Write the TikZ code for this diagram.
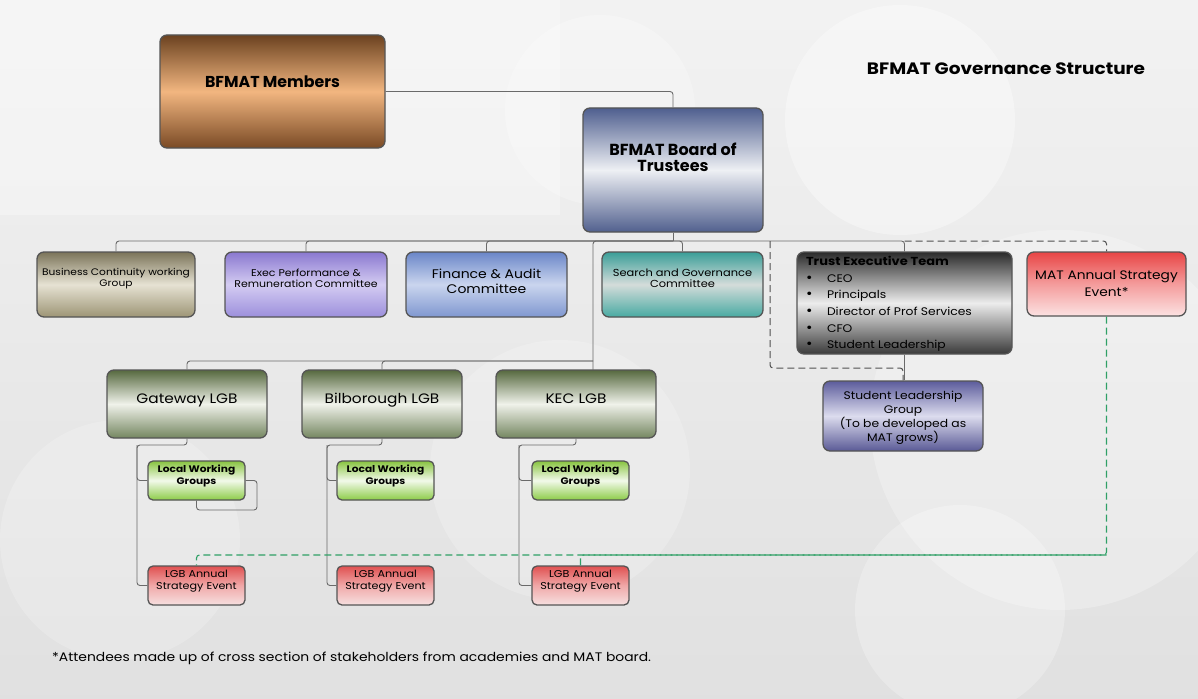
\documentclass[tikz,border=0pt]{standalone}
\usepackage{fontspec}
\setmainfont{Poppins}[FakeStretch=1.12]
\newfontfamily\plainf{Poppins}
\usetikzlibrary{calc}
\definecolor{boxedge}{HTML}{555555}
\definecolor{connc}{HTML}{6A6A6A}
\definecolor{dashc}{HTML}{505050}
\definecolor{greenline}{HTML}{2FA066}
\definecolor{memA}{HTML}{6B4220}\definecolor{memB}{HTML}{7A4A25}\definecolor{memC}{HTML}{F2B680}
\definecolor{brdA}{HTML}{4F5F8F}\definecolor{brdB}{HTML}{51608E}\definecolor{brdC}{HTML}{EEF0F4}
\definecolor{bcA}{HTML}{7B7459}\definecolor{bcB}{HTML}{9D9575}\definecolor{bcC}{HTML}{E6E2D3}
\definecolor{epA}{HTML}{8A78D0}\definecolor{epB}{HTML}{9C8FDC}\definecolor{epC}{HTML}{D4CCF2}
\definecolor{faA}{HTML}{6A86C8}\definecolor{faB}{HTML}{7F97D0}\definecolor{faC}{HTML}{CAD5EE}
\definecolor{sgA}{HTML}{3A9E98}\definecolor{sgB}{HTML}{48AAA2}\definecolor{sgC}{HTML}{D4DCDA}
\definecolor{teA}{HTML}{2A2A2A}\definecolor{teB}{HTML}{3A3A3A}\definecolor{teC}{HTML}{EDEDED}
\definecolor{matA}{HTML}{E84545}\definecolor{matB}{HTML}{FCE2E2}\definecolor{matC}{HTML}{F49C9C}
\definecolor{slA}{HTML}{5C5C9C}\definecolor{slB}{HTML}{5A5A96}\definecolor{slC}{HTML}{DCDCEE}
\definecolor{lgA}{HTML}{56693F}\definecolor{lgB}{HTML}{748660}\definecolor{lgC}{HTML}{F0F2EA}
\definecolor{lwA}{HTML}{88C440}\definecolor{lwB}{HTML}{8CCC48}\definecolor{lwC}{HTML}{F2F9EA}
\definecolor{evA}{HTML}{E05050}\definecolor{evB}{HTML}{F6E0E0}\definecolor{evC}{HTML}{F0A8A8}
\newcommand\bxt[4]{\parbox[c][#2][t]{#1}{\centering\vspace*{#3}#4\par}}
\newcommand\bul{\makebox[21pt][l]{\fontsize{14}{14}\selectfont •}}
\begin{document}
\begin{tikzpicture}[x=1pt,y=-1pt,
  conn/.style={draw=connc, line width=0.9pt, rounded corners=3pt},
  dconn/.style={draw=dashc, line width=1pt, rounded corners=3pt, dash pattern=on 7pt off 4pt},
  gconn/.style={draw=greenline, line width=1.1pt, dash pattern=on 7pt off 4pt, rounded corners=3pt},
  bx/.style={draw=boxedge, line width=1.3pt, rounded corners=7pt, inner sep=0pt},
  sbx/.style={bx, rounded corners=5pt},
]
\useasboundingbox (0,0) rectangle (1198,698);
% background
\shade[top color=gray!10, bottom color=gray!24] (0,0) rectangle (1198,698);
\fill[white, opacity=0.35] (900,120) circle (115);
\fill[white, opacity=0.25] (600,110) circle (95);
\fill[white, opacity=0.25] (1060,420) circle (190);
\fill[white, opacity=0.2] (120,540) circle (120);
\fill[white, opacity=0.25] (960,610) circle (105);
\fill[white, opacity=0.2] (560,470) circle (130);
\fill[white, opacity=0.3] (0,0) rectangle (560,215);

% title
\node[font=\fontsize{16.5}{18}\selectfont\bfseries] (title) at (1006,69) {BFMAT Governance Structure};

% top nodes
\node[bx, top color=memA, bottom color=memB, middle color=memC] (mem) at (272.5,91.5)
  {\bxt{225pt}{113pt}{40.5pt}{\plainf\fontsize{15.8}{17}\selectfont\bfseries BFMAT Members}};
\node[bx, top color=brdA, bottom color=brdB, middle color=brdC] (board) at (673,170)
  {\bxt{180pt}{124pt}{34.5pt}{\plainf\fontsize{16}{16.5}\selectfont\bfseries BFMAT Board of\\Trustees}};

% committees
\node[bx, top color=bcA, bottom color=bcB, middle color=bcC] (bc) at (116,284.5)
  {\bxt{158pt}{65pt}{16.5pt}{\fontsize{9.5}{11}\selectfont Business Continuity working\\Group}};
\node[bx, top color=epA, bottom color=epB, middle color=epC] (ep) at (306,284.5)
  {\bxt{162pt}{65pt}{17.5pt}{\fontsize{9.8}{11}\selectfont Exec Performance \&\\Remuneration Committee}};
\node[bx, top color=faA, bottom color=faB, middle color=faC] (fa) at (486.5,284.5)
  {\bxt{161pt}{65pt}{16.5pt}{\fontsize{12.5}{15}\selectfont Finance \& Audit\\Committee}};
\node[bx, top color=sgA, bottom color=sgB, middle color=sgC] (sg) at (682.5,284.5)
  {\bxt{161pt}{65pt}{16.5pt}{\fontsize{10.2}{11}\selectfont Search and Governance\\Committee}};
\node[bx, top color=teA, bottom color=teB, middle color=teC] (te) at (904.5,303)
  {\parbox[c][102pt][t]{215pt}{\raggedright\leftskip=9pt\vspace*{4.5pt}\fontsize{11}{16.6}\selectfont
   {\fontsize{11.6}{12}\selectfont\bfseries Trust Executive Team}\\
   \bul CEO\\
   \bul Principals\\
   \bul Director of Prof Services\\
   \bul CFO\\
   \bul Student Leadership\par}};
\node[bx, top color=matA, bottom color=matB, middle color=matC] (mat) at (1106.5,284)
  {\bxt{159pt}{64pt}{18.5pt}{\fontsize{12.3}{17}\selectfont MAT Annual Strategy\\Event*}};
\node[bx, top color=slA, bottom color=slB, middle color=slC] (slg) at (903,416)
  {\bxt{160pt}{70pt}{10.5pt}{\fontsize{11}{14}\selectfont Student Leadership\\Group\\(To be developed as\\MAT grows)}};

% LGBs
\foreach \n/\x/\t in {gw/187/Gateway LGB, bil/382/Bilborough LGB, kec/576/KEC LGB}{
  \node[bx, top color=lgA, bottom color=lgB, middle color=lgC] (\n) at (\x,404)
    {\bxt{160pt}{68pt}{23.5pt}{\fontsize{13.7}{15}\selectfont \t}};
}
\foreach \n/\x in {gw/196.5, bil/385.5, kec/580.5}{
  \node[sbx, top color=lwA, bottom color=lwB, middle color=lwC] (\n l) at (\x,480.5)
    {\bxt{97pt}{39pt}{4.2pt}{\fontsize{9.5}{11.5}\selectfont\bfseries Local Working\\Groups}};
  \node[sbx, top color=evA, bottom color=evB, middle color=evC] (\n e) at (\x,585.5)
    {\bxt{97pt}{39pt}{4.4pt}{\fontsize{10}{11.5}\selectfont LGB Annual\\Strategy Event}};
}

% footer
\node[anchor=west, inner xsep=0pt, font=\fontsize{12.4}{14}\selectfont] (foot) at (52,658)
  {*Attendees made up of cross section of stakeholders from academies and MAT board.};

% connectors
\coordinate (bus) at (673,241);
\coordinate (tebus) at (904.5,241);
\coordinate (slgstart) at (770,241);
\draw[conn] (mem.east) -| (board.north);
\draw[conn] (board.south) -- (bus);
\foreach \c in {bc,ep,fa,sg,te}{\draw[conn] (bus) -| (\c.north);}
\draw[dconn] (tebus) -| (mat.north);
\coordinate (slgturn) at (770,368);
\draw[dconn] (slgstart) -- (slgturn) -| (slg.north);
\draw[conn] (te.south) -- (te.south |- slg.north);
\coordinate (kecin) at (593,370);
\coordinate (lgbbus) at (593,361);
\draw[conn] (bus) -| (kecin);
\draw[conn] (lgbbus) -| (gw.north);
\draw[conn] (lgbbus) -| (bil.north);
\foreach \n/\x in {gw/137, bil/327, kec/519}{
  \coordinate (\n j) at (\x,445);
  \draw[conn] (\n.south) |- (\n j) |- (\n l.west);
  \draw[conn] (\n j) |- (\n e.west);
}
\coordinate (gwloop) at (257,510);
\draw[conn] (gwl.east) -| (gwloop) -| (gwl.south);
\coordinate (gturn) at (1106.5,555);
\draw[gconn] (mat.south) -- (gturn) -| (gwe.north);
\draw[gconn] (gturn) -| (kece.north);
\end{tikzpicture}
\end{document}
